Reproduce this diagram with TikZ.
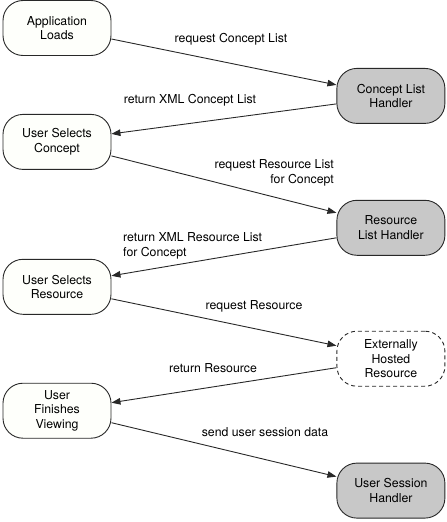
\documentclass[tikz,border=0pt]{standalone}
\usepackage{fontspec}
\setmainfont{TeX Gyre Heros}
\usepackage{tikz}
\usetikzlibrary{positioning, arrows.meta}
\definecolor{handlergray}{RGB}{200, 200, 200}
\definecolor{stepfill}{RGB}{254, 255, 251}
\definecolor{edgedark}{RGB}{40, 40, 40}

\begin{document}
\begin{tikzpicture}[
            x=1pt, y=-1pt,
            font=\fontsize{12.3}{14.5}\selectfont,
            stepbox/.style={draw=edgedark, fill=stepfill, line width=0.9pt, rounded corners=20pt, minimum width=108pt, minimum height=55pt, align=center, inner sep=2pt},
            handler/.style={stepbox, fill=handlergray},
            external/.style={stepbox, fill=white, dash pattern=on 4pt off 3pt},
            msg/.style={inner sep=1pt},
            arrow/.style={-{Triangle[length=9pt, width=6.5pt]}, edgedark, line width=0.9pt}
        ]
            \useasboundingbox (0,0) rectangle (447,522);

            % user side
            \node[stepbox] (app) at (57,28) {Application\\Loads};
            \node[stepbox, below=58pt of app] (concept) {User Selects\\Concept};
            \node[stepbox, below=89pt of concept] (resource) {User Selects\\Resource};
            \node[stepbox, below=68pt of resource] (finish) {User\\Finishes\\Viewing};

            % server side
            \node[handler, below right=12pt and 225pt of app] (clh) {Concept List\\Handler};
            \node[handler, below=76pt of clh] (rlh) {Resource\\List Handler};
            \node[external, below=75pt of rlh] (ext) {Externally\\Hosted\\Resource};
            \node[handler, below=76pt of ext] (ush) {User Session\\Handler};

            % messages
            \node[msg] (m1) at (231,39) {request Concept List};
            \node[msg] (m2) at (190,100) {return XML Concept List};
            \node[msg, anchor=east, align=right] (m3) at (335,173) {request Resource List\\for Concept};
            \node[msg, anchor=west, align=left] (m4) at (122,246) {return XML Resource List\\for Concept};
            \node[msg] (m5) at (254,306) {request Resource};
            \node[msg] (m6) at (213,368) {return Resource};
            \node[msg] (m7) at (265,432) {send user session data};

            \draw[arrow] ([yshift=-11pt]app.east) -- ([yshift=11pt]clh.west);
            \draw[arrow] ([yshift=-8pt]clh.west) -- ([yshift=8pt]concept.east);
            \draw[arrow] ([yshift=-14pt]concept.east) -- ([yshift=15pt]rlh.west);
            \draw[arrow] ([yshift=-10pt]rlh.west) -- ([yshift=11pt]resource.east);
            \draw[arrow] ([yshift=-12pt]resource.east) -- ([yshift=13pt]ext.west);
            \draw[arrow] ([yshift=-9pt]ext.west) -- ([yshift=8pt]finish.east);
            \draw[arrow] ([yshift=-12pt]finish.east) -- ([yshift=14pt]ush.west);
        \end{tikzpicture}
\end{document}
